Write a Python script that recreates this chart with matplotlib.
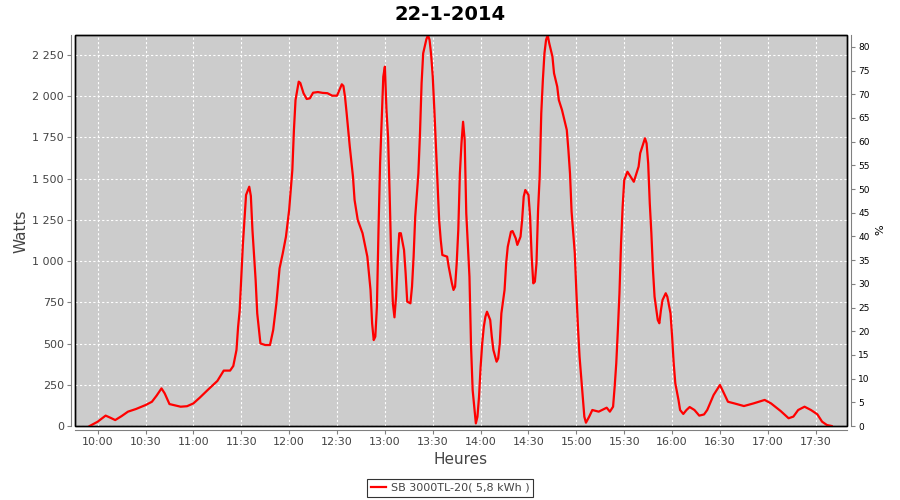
import matplotlib
matplotlib.use("Agg")
import matplotlib.pyplot as plt
from matplotlib.ticker import FixedLocator, FuncFormatter

# Production du 22-1-2014 (heure, puissance en W)
times = [
    "09:55", "10:00", "10:05", "10:08", "10:11", "10:15", "10:19", "10:24", "10:30", "10:34",
    "10:37", "10:40", "10:42", "10:45", "10:52", "10:56", "11:00", "11:04", "11:10", "11:15",
    "11:19", "11:23", "11:25", "11:27", "11:28", "11:29", "11:30", "11:31", "11:32", "11:33",
    "11:35", "11:36", "11:37", "11:39", "11:40", "11:42", "11:45", "11:48", "11:50", "11:52",
    "11:54", "11:56", "11:58", "12:00", "12:02", "12:03", "12:04", "12:06", "12:07", "12:09",
    "12:11", "12:13", "12:15", "12:18", "12:21", "12:24", "12:27", "12:30", "12:33", "12:34",
    "12:35", "12:36", "12:38", "12:40", "12:41", "12:43", "12:46", "12:49", "12:51", "12:52",
    "12:53", "12:54", "12:55", "12:56", "12:57", "12:58", "12:59", "13:00", "13:01", "13:02",
    "13:03", "13:04", "13:05", "13:06", "13:07", "13:08", "13:09", "13:10", "13:12", "13:13",
    "13:14", "13:16", "13:17", "13:18", "13:19", "13:21", "13:22", "13:23", "13:24", "13:26",
    "13:27", "13:28", "13:29", "13:30", "13:31", "13:32", "13:33", "13:34", "13:35", "13:36",
    "13:39", "13:40", "13:42", "13:43", "13:44", "13:45", "13:46", "13:47", "13:48", "13:49",
    "13:50", "13:51", "13:53", "13:54", "13:55", "13:57", "13:58", "13:59", "14:00", "14:01",
    "14:02", "14:03", "14:04", "14:06", "14:07", "14:08", "14:10", "14:11", "14:12", "14:13",
    "14:15", "14:16", "14:17", "14:19", "14:20", "14:22", "14:23", "14:25", "14:26", "14:27",
    "14:28", "14:30", "14:31", "14:32", "14:33", "14:34", "14:35", "14:36", "14:37", "14:38",
    "14:39", "14:40", "14:41", "14:42", "14:43", "14:45", "14:46", "14:48", "14:49", "14:51",
    "14:52", "14:54", "14:55", "14:56", "14:57", "14:59", "15:00", "15:01", "15:02", "15:04",
    "15:05", "15:06", "15:08", "15:10", "15:14", "15:17", "15:19", "15:21", "15:23", "15:24",
    "15:25", "15:26", "15:27", "15:28", "15:29", "15:30", "15:32", "15:34", "15:36", "15:37",
    "15:39", "15:40", "15:42", "15:43", "15:44", "15:45", "15:46", "15:47", "15:48", "15:49",
    "15:51", "15:52", "15:53", "15:54", "15:56", "15:57", "15:59", "16:00", "16:01", "16:02",
    "16:04", "16:05", "16:07", "16:09", "16:11", "16:14", "16:17", "16:20", "16:22", "16:26",
    "16:30", "16:32", "16:35", "16:39", "16:45", "16:51", "16:58", "17:02", "17:08", "17:13",
    "17:16", "17:19", "17:23", "17:27", "17:31", "17:34", "17:37", "17:40",
]
watts = [
    0, 26, 63, 50, 36, 60, 87, 103, 127, 147,
    185, 228, 198, 133, 117, 120, 137, 172, 228, 273,
    336, 336, 364, 461, 600, 700, 900, 1100, 1250, 1401,
    1451, 1395, 1189, 885, 683, 501, 491, 491, 582, 744,
    956, 1047, 1148, 1310, 1552, 1795, 1977, 2088, 2080, 2018,
    1983, 1987, 2021, 2025, 2020, 2018, 2003, 2003, 2072, 2062,
    1997, 1900, 1694, 1512, 1371, 1249, 1169, 1027, 825, 623,
    521, 542, 723, 1189, 1593, 1850, 2118, 2179, 1916, 1750,
    1400, 1007, 744, 659, 784, 1007, 1169, 1169, 1067, 926,
    754, 744, 845, 1027, 1269, 1532, 1775, 2078, 2260, 2345,
    2370, 2341, 2250, 2118, 1916, 1694, 1472, 1249, 1128, 1037,
    1027, 966, 865, 825, 845, 987, 1189, 1532, 1714, 1845,
    1734, 1290, 905, 481, 218, 16, 56, 178, 360, 501,
    602, 663, 693, 643, 542, 461, 390, 410, 501, 683,
    825, 987, 1087, 1178, 1182, 1138, 1098, 1148, 1249, 1391,
    1431, 1401, 1269, 1027, 865, 875, 987, 1310, 1512, 1896,
    2098, 2260, 2341, 2370, 2321, 2240, 2139, 2058, 1977, 1916,
    1876, 1795, 1674, 1532, 1300, 1050, 815, 600, 420, 178,
    56, 20, 56, 97, 87, 101, 111, 87, 117, 238,
    380, 582, 805, 1108, 1330, 1492, 1542, 1512, 1481, 1512,
    1573, 1654, 1714, 1745, 1714, 1593, 1350, 1169, 946, 784,
    643, 623, 703, 764, 805, 784, 683, 542, 380, 259,
    158, 97, 73, 97, 115, 97, 63, 70, 97, 188,
    249, 208, 147, 137, 121, 137, 158, 137, 91, 47,
    57, 97, 117, 97, 71, 26, 6, 0,
]
x_ticks = ["10:00", "10:30", "11:00", "11:30", "12:00", "12:30", "13:00", "13:30",
           "14:00", "14:30", "15:00", "15:30", "16:00", "16:30", "17:00", "17:30"]
watt_ticks = [0, 250, 500, 750, 1000, 1250, 1500, 1750, 2000, 2250]
pct_ticks = list(range(0, 85, 5))
series_label = "SB 3000TL-20( 5,8 kWh )"


def to_minutes(hhmm: str) -> int:
    h, m = hhmm.split(":")
    return int(h) * 60 + int(m)


def fmt_hhmm(v, _pos=None) -> str:
    v = int(round(v))
    return f"{v // 60:02d}:{v % 60:02d}"


plt.rcParams["font.family"] = "DejaVu Sans"
GREY_TXT = "#444444"
AXIS_GREY = "#808080"

fig = plt.figure(figsize=(9, 5), dpi=100)
ax = fig.add_axes([75 / 900, 1 - 426 / 500, (847 - 75) / 900, (426 - 35) / 500])
ax.set_facecolor("#cccccc")
ax.patch.set_edgecolor("black")
ax.patch.set_linewidth(1.0)

x = [to_minutes(t) for t in times]
line, = ax.plot(x, watts, color="#ff0000", linewidth=1.6, label=series_label)

ax.set_xlim(585.8, 1069.6)
ax.set_ylim(0, 2371)
ax.xaxis.set_major_locator(FixedLocator([to_minutes(t) for t in x_ticks]))
ax.xaxis.set_major_formatter(FuncFormatter(fmt_hhmm))
ax.yaxis.set_major_locator(FixedLocator(watt_ticks))
ax.yaxis.set_major_formatter(FuncFormatter(lambda v, p: f"{v:,.0f}".replace(",", " ")))
ax.grid(True, color="white", linestyle=(0, (2, 2)), linewidth=0.8)
ax.set_axisbelow(True)

for side in ("left", "bottom"):
    ax.spines[side].set_position(("outward", 3))
    ax.spines[side].set_color(AXIS_GREY)
    ax.spines[side].set_linewidth(0.8)
for side in ("top", "right"):
    ax.spines[side].set_visible(False)
ax.tick_params(axis="both", colors=AXIS_GREY, length=3, width=0.8, pad=2,
               labelsize=8, labelcolor=GREY_TXT)

# axe de droite en %
ax2 = ax.twinx()
ax2.set_ylim(0, 82.5)
ax2.yaxis.set_major_locator(FixedLocator(pct_ticks))
for side in ("left", "bottom", "top"):
    ax2.spines[side].set_visible(False)
ax2.spines["right"].set_position(("outward", 3))
ax2.spines["right"].set_color(AXIS_GREY)
ax2.spines["right"].set_linewidth(0.8)
ax2.tick_params(axis="y", colors=AXIS_GREY, length=3, width=0.8, pad=2,
                labelsize=6.5, labelcolor="black")

# redessiner le cadre noir par-dessus
for spine_ax in (ax2,):
    pass
frame = plt.Rectangle((0, 0), 1, 1, transform=ax.transAxes, fill=False,
                      edgecolor="black", linewidth=1.0, zorder=5, clip_on=False)
ax2.add_patch(frame)

fig.text(0.5, 1 - 14 / 500, "22-1-2014", ha="center", va="center",
         fontsize=14, fontweight="bold", color="black")
fig.text(21 / 900, 1 - 231 / 500, "Watts", rotation=90, ha="center", va="center",
         fontsize=11, color=GREY_TXT)
fig.text(461 / 900, 1 - 460 / 500, "Heures", ha="center", va="center",
         fontsize=11, color=GREY_TXT)
fig.text(880 / 900, 1 - 230 / 500, "%", rotation=90, ha="center", va="center",
         fontsize=8, color="black")

leg = fig.legend(handles=[line], loc="center", bbox_to_anchor=(0.5, 1 - 488 / 500),
                 fontsize=8, frameon=True, fancybox=False, handlelength=1.4,
                 handletextpad=0.4, borderpad=0.35, labelcolor=GREY_TXT)
leg.get_frame().set_edgecolor("black")
leg.get_frame().set_linewidth(0.8)

fig.savefig("out.png", dpi=100, facecolor="white")
